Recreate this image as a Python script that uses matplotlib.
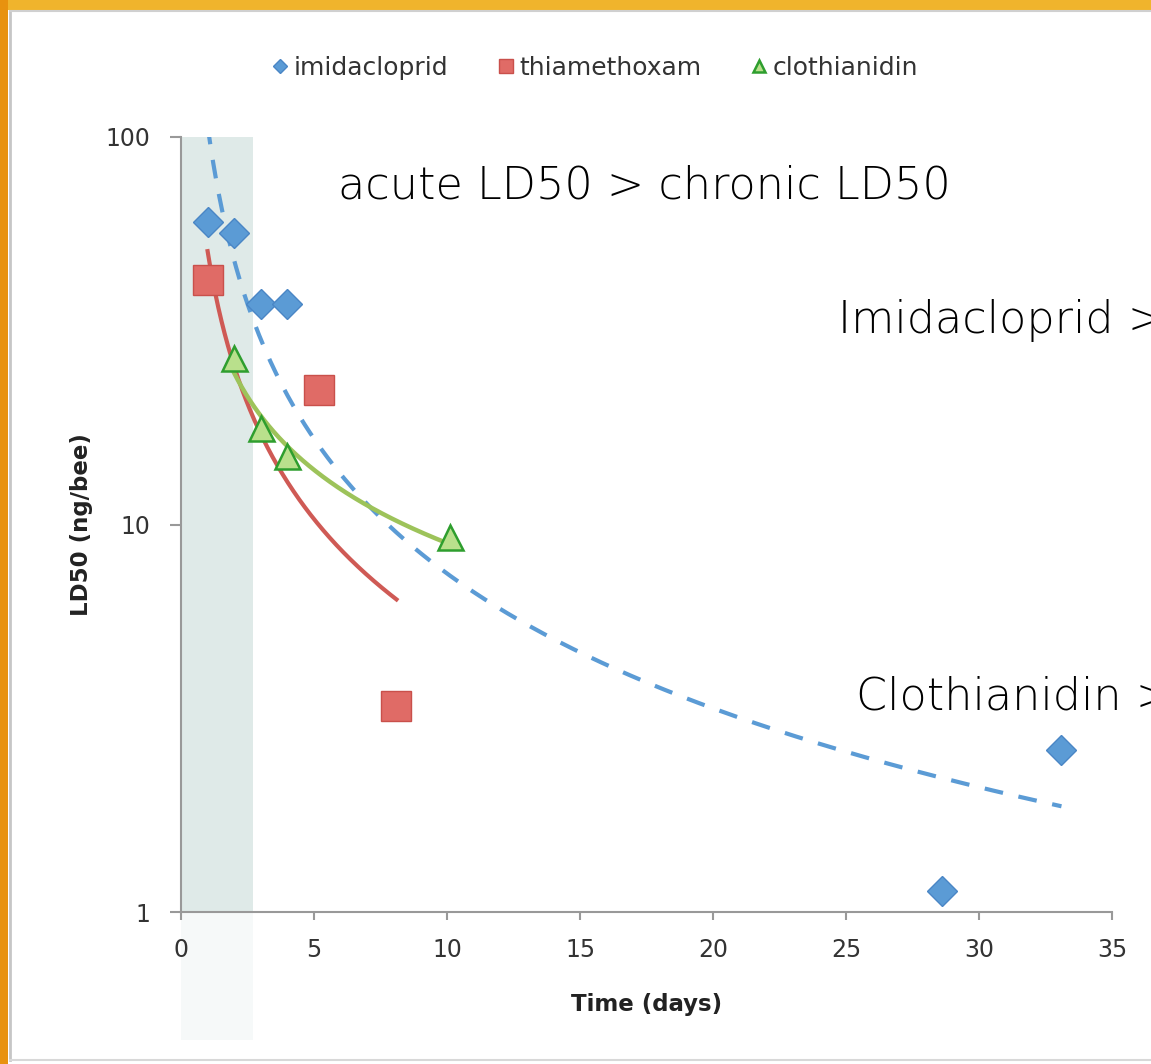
import numpy as np
import matplotlib
matplotlib.use("Agg")
import matplotlib.pyplot as plt
from matplotlib.patches import Rectangle
from matplotlib.lines import Line2D

plt.rcParams["font.family"] = ["DejaVu Sans"]

# ---- data ----
imi_x = [1.0, 2.0, 3.0, 4.0, 28.6, 33.1]
imi_y = [60.4, 56.5, 37.0, 37.0, 1.13, 2.62]
thia_x = [1.0, 5.2, 8.1]
thia_y = [42.8, 22.2, 3.4]
clo_x = [2.0, 3.0, 4.0, 10.1]
clo_y = [26.9, 17.7, 15.0, 9.3]
labels = ["imidacloprid", "thiamethoxam", "clothianidin"]
x_ticks = [0, 5, 10, 15, 20, 25, 30, 35]
y_ticks = [1, 10, 100]
acute_span = [0, 2.7]

BLUE = "#5b9bd5"
BLUE_EDGE = "#4a86c5"
RED = "#e06b66"
RED_EDGE = "#c9504b"
GREEN_FILL = "#b9e08c"
GREEN_EDGE = "#2e9e2e"
RED_LINE = "#cf5a55"
GREEN_LINE = "#9dc35a"

def power_fit(x, y):
    b, loga = np.polyfit(np.log10(x), np.log10(y), 1)
    return 10 ** loga, b

fig = plt.figure(figsize=(11.51, 10.64), dpi=100)
fig.patch.set_facecolor("white")

# slide border
fig.add_artist(Rectangle((0, 1 - 10 / 1064), 1, 10 / 1064, transform=fig.transFigure,
                         facecolor="#f0b42c", edgecolor="none", zorder=0))
fig.add_artist(Rectangle((0, 0), 8 / 1151, 1, transform=fig.transFigure,
                         facecolor="#e8920f", edgecolor="none", zorder=0))
fig.add_artist(Line2D([10 / 1151, 10 / 1151], [4 / 1064, 1 - 11 / 1064], transform=fig.transFigure,
                      color="#c6c6c6", lw=2, zorder=1))
fig.add_artist(Line2D([10 / 1151, 1], [1 - 11 / 1064, 1 - 11 / 1064], transform=fig.transFigure,
                      color="#d0d0d0", lw=1.5, zorder=1))
fig.add_artist(Line2D([10 / 1151, 1], [4 / 1064, 4 / 1064], transform=fig.transFigure,
                      color="#d8d8d8", lw=1.5, zorder=1))

ax = fig.add_axes([181 / 1151, 1 - 912 / 1064, 931 / 1151, 775 / 1064])
ax.set_facecolor("none")
ax.set_yscale("log")
ax.set_xlim(0, 35)
ax.set_ylim(1, 100)

# acute shaded span (and its faint continuation below the axis)
ax.axvspan(acute_span[0], acute_span[1], color="#dfeae8", zorder=0, lw=0)
x0 = ax.transData.transform((acute_span[0], 1))[0]
x1 = ax.transData.transform((acute_span[1], 1))[0]
fig.add_artist(Rectangle((x0 / 1151, 24 / 1064), (x1 - x0) / 1151, (1064 - 912 - 24) / 1064,
                         transform=fig.transFigure, facecolor="#f6f9f9", edgecolor="none", zorder=0))

# trendlines (power fits)
a, b = power_fit(imi_x, imi_y)
xx = np.linspace(min(imi_x), max(imi_x), 300)
ax.plot(xx, a * xx ** b, color=BLUE, lw=3.0, ls=(0, (4.5, 3.8)), zorder=2)
a, b = power_fit(thia_x, thia_y)
xx = np.linspace(min(thia_x), max(thia_x), 300)
ax.plot(xx, a * xx ** b, color=RED_LINE, lw=3.0, zorder=2)
a, b = power_fit(clo_x, clo_y)
xx = np.linspace(min(clo_x), max(clo_x), 300)
ax.plot(xx, a * xx ** b, color=GREEN_LINE, lw=3.2, zorder=2)

# points
ax.plot(imi_x, imi_y, ls="none", marker="D", ms=15, mfc=BLUE, mec=BLUE_EDGE, mew=1, zorder=3,
        label=labels[0])
ax.plot(thia_x, thia_y, ls="none", marker="s", ms=21, mfc=RED, mec=RED_EDGE, mew=1, zorder=3,
        label=labels[1])
ax.plot(clo_x, clo_y, ls="none", marker="^", ms=18, mfc=GREEN_FILL, mec=GREEN_EDGE, mew=1.8, zorder=3,
        label=labels[2])

# axes style
for s in ["top", "right"]:
    ax.spines[s].set_visible(False)
for s in ["left", "bottom"]:
    ax.spines[s].set_color("#999999")
    ax.spines[s].set_linewidth(1.5)
ax.set_xticks(x_ticks)
ax.set_xticklabels([str(t) for t in x_ticks])
ax.set_yticks(y_ticks)
ax.set_yticklabels([str(t) for t in y_ticks])
ax.minorticks_off()
ax.tick_params(axis="x", length=6, width=1.5, color="#999999", labelsize=17, labelcolor="#333333", pad=13)
ax.tick_params(axis="y", length=8, width=1.5, color="#999999", labelsize=17, labelcolor="#333333", pad=14)
ax.set_xlabel("Time (days)", fontsize=16.5, fontweight="bold", color="#222222", labelpad=22)
ax.set_ylabel("LD50 (ng/bee)", fontsize=16.5, fontweight="bold", color="#222222", labelpad=9)

leg = fig.legend(loc="center", bbox_to_anchor=(593 / 1151, 1 - 68 / 1064), ncol=3, frameon=False,
                 fontsize=18, handletextpad=0.05, columnspacing=1.8, markerscale=0.5,
                 handlelength=1.0, labelcolor="#333333")

# annotations (the two right-hand ones run off the slide edge, as in the original)
fs = 32
fig.text(338 / 1151, 1 - 186 / 1064, "acute LD50 > chronic LD50", fontsize=fs, fontweight="light",
         va="center", ha="left", color="black")
fig.text(838 / 1151, 1 - 320 / 1064, "Imidacloprid >", fontsize=fs, fontweight="light",
         va="center", ha="left", color="black")
fig.text(856 / 1151, 1 - 697 / 1064, "Clothianidin >", fontsize=fs, fontweight="light",
         va="center", ha="left", color="black")

fig.savefig("out.png", dpi=100)
